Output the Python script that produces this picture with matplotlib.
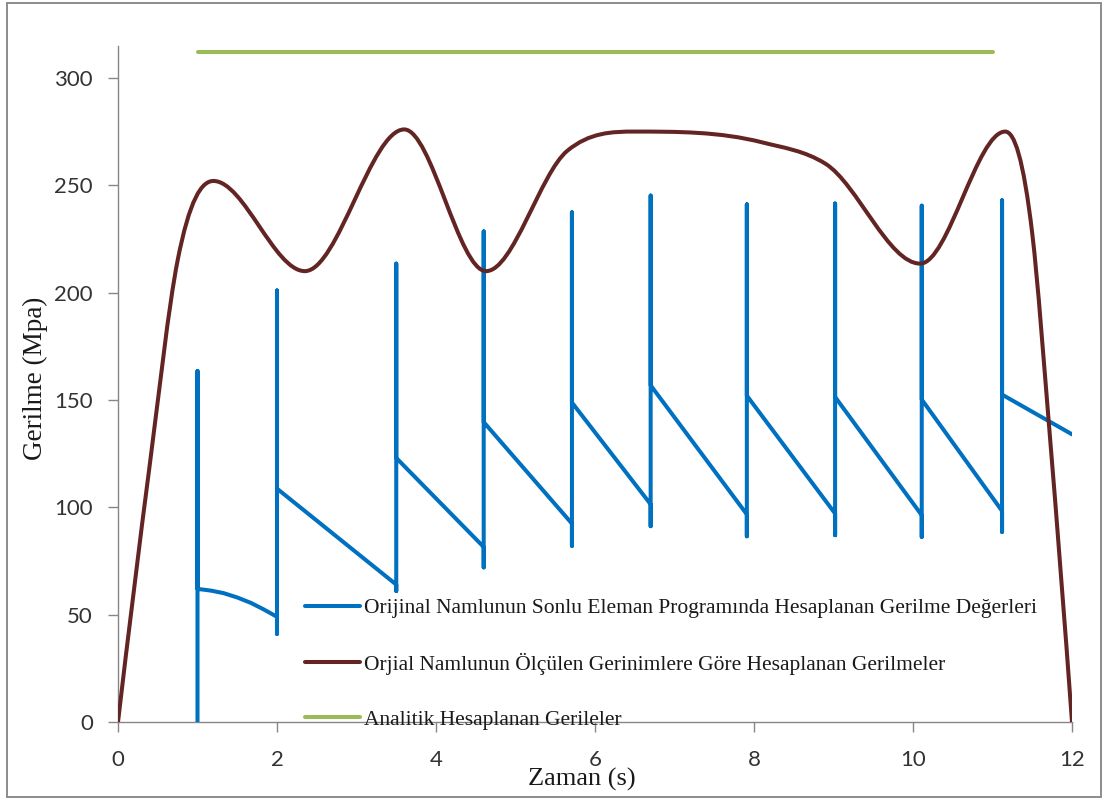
import numpy as np
import matplotlib
matplotlib.use("Agg")
import matplotlib.pyplot as plt
from matplotlib.path import Path
from matplotlib.patches import PathPatch, Rectangle
from matplotlib.lines import Line2D

# ---- data -------------------------------------------------------------
# finite element results (sawtooth: each shot jumps up, then relaxes)
fe_time = [1, 1, 1, 1.17, 1.33, 1.5, 1.67, 1.83, 2, 2, 2, 2,
           3.5, 3.5, 3.5, 3.5, 4.6, 4.6, 4.6, 4.6,
           5.71, 5.71, 5.71, 5.71, 6.7, 6.7, 6.7, 6.7,
           7.91, 7.91, 7.91, 7.91, 9.02, 9.02, 9.02, 9.02,
           10.11, 10.11, 10.11, 10.11, 11.12, 11.12, 11.12, 11.12, 12]
fe_stress = [0, 163.5, 62, 61.2, 60, 58, 55.5, 52.5, 49, 41, 201, 108.7,
             64, 61, 213.5, 123, 81.5, 72, 228.5, 139.7,
             92.4, 82, 237.4, 148.8, 101.4, 91.2, 245.2, 156.8,
             96.7, 86.5, 241.1, 152, 97.1, 87, 241.5, 151.4,
             96.3, 86.2, 240.5, 150.2, 98.3, 88.5, 243, 152.5, 134]

# stresses from measured strains
measured_time = [0, 0.4, 0.75, 1.2, 2.35, 3.6, 4.63, 5.65, 6.5, 8.1, 8.9,
                 10.09, 11.16, 11.5, 11.72, 12]
measured_stress = [0, 120, 215, 252, 210, 276, 210, 266, 275, 270, 260,
                   213.5, 275, 227.5, 134, 0]

# analytical solution
analytic_time = [1, 11]
analytic_stress = [312, 312]

x_ticks = [0, 2, 4, 6, 8, 10, 12]
y_ticks = [0, 50, 100, 150, 200, 250, 300]

series_labels = [
    "Orijinal Namlunun Sonlu Eleman Programında Hesaplanan Gerilme Değerleri",
    "Orjial Namlunun Ölçülen Gerinimlere Göre Hesaplanan Gerilmeler",
    "Analitik Hesaplanan Gerileler",
]
x_label = "Zaman (s)"
y_label = "Gerilme (Mpa)"

# ---- styling ----------------------------------------------------------
BLUE = "#0070C0"
BROWN = "#632523"
GREEN = "#9BBB59"
AXIS_GRAY = "#868686"
SERIF = ["Liberation Serif", "DejaVu Serif"]
LW = 2.9


def smooth_slopes(x, y):
    """Three-point (parabolic) slopes, flat at local extrema."""
    x = np.asarray(x, float)
    y = np.asarray(y, float)
    h = np.diff(x)
    d = np.diff(y) / h
    n = len(x)
    m = np.zeros(n)
    for k in range(1, n - 1):
        if d[k - 1] * d[k] > 0:
            m[k] = (h[k] * d[k - 1] + h[k - 1] * d[k]) / (h[k - 1] + h[k])
    m[0] = ((2 * h[0] + h[1]) * d[0] - h[0] * d[1]) / (h[0] + h[1])
    m[-1] = ((2 * h[-1] + h[-2]) * d[-1] - h[-1] * d[-2]) / (h[-1] + h[-2])
    return m


def smooth_path(x, y):
    """Cubic Bezier path passing through every (x, y) point."""
    m = smooth_slopes(x, y)
    verts = [(x[0], y[0])]
    codes = [Path.MOVETO]
    for i in range(len(x) - 1):
        h = x[i + 1] - x[i]
        verts += [(x[i] + h / 3, y[i] + m[i] * h / 3),
                  (x[i + 1] - h / 3, y[i + 1] - m[i + 1] * h / 3),
                  (x[i + 1], y[i + 1])]
        codes += [Path.CURVE4] * 3
    return Path(verts, codes)


plt.rcParams["font.family"] = ["Lato", "DejaVu Sans"]

fig = plt.figure(figsize=(11.03, 7.98), dpi=100)
ax = fig.add_axes([118 / 1103, 1 - 722 / 798, (1072 - 118) / 1103, (722 - 45.7) / 798])

# outer chart-area frame
fig.patches.append(Rectangle((7 / 1103, 1 / 798), (1101 - 7) / 1103, (796 - 2) / 798,
                             transform=fig.transFigure, fill=False,
                             edgecolor="#8c8c8c", lw=1.4))

ax.plot(fe_time, fe_stress, color=BLUE, lw=LW,
        solid_capstyle="round", solid_joinstyle="round", zorder=3)
ax.add_patch(PathPatch(smooth_path(measured_time, measured_stress),
                       facecolor="none", edgecolor=BROWN, lw=LW,
                       capstyle="round", joinstyle="round", zorder=4))
ax.plot(analytic_time, analytic_stress, color=GREEN, lw=LW,
        solid_capstyle="round", zorder=5)

ax.set_xlim(0, 12)
ax.set_ylim(0, 315)
ax.set_xticks(x_ticks)
ax.set_yticks(y_ticks)

for side in ("top", "right"):
    ax.spines[side].set_visible(False)
for side in ("left", "bottom"):
    ax.spines[side].set_color(AXIS_GRAY)
    ax.spines[side].set_linewidth(1.0)

ax.tick_params(axis="both", direction="out", length=7, width=1.0,
               color=AXIS_GRAY, labelcolor="#333333", labelsize=16)
ax.tick_params(axis="y", pad=11)
ax.tick_params(axis="x", pad=13)

ax.set_xlabel(x_label, family=SERIF, fontsize=19, color="#1a1a1a")
ax.set_ylabel(y_label, family=SERIF, fontsize=19.5, color="#1a1a1a")
ax.xaxis.label.set_va("baseline")
ax.xaxis.set_label_coords(0.486, -0.0935)
ax.yaxis.label.set_va("center")
ax.yaxis.set_label_coords(-0.087, 0.508)

handles = [Line2D([], [], color=c, lw=LW, solid_capstyle="round")
           for c in (BLUE, BROWN, GREEN)]
leg = ax.legend(handles, series_labels, loc="upper left",
                bbox_to_anchor=(305 / 1103, 1 - 598 / 798),
                bbox_transform=fig.transFigure, frameon=False,
                prop={"family": SERIF, "size": 15.5},
                handlelength=2.55, handletextpad=0.2, labelspacing=1.61,
                borderpad=0, borderaxespad=0)
for t in leg.get_texts():
    t.set_color("#1a1a1a")

fig.savefig("out.png", dpi=100)
